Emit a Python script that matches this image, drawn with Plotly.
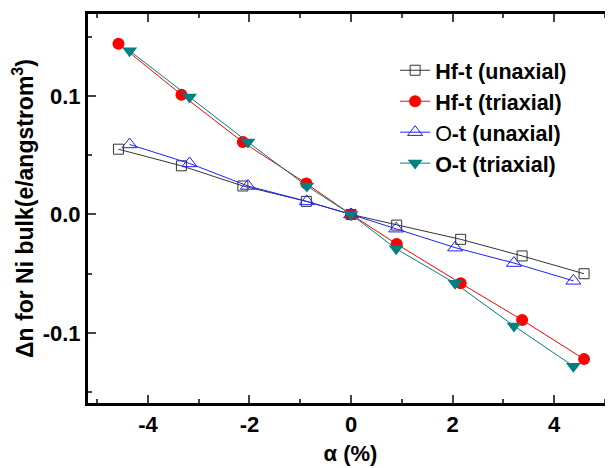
import plotly.graph_objects as go

# Data
x_hf = [-4.58, -3.34, -2.13, -0.88, 0.0, 0.90, 2.16, 3.37, 4.59]
y_hf_uni = [0.055, 0.041, 0.024, 0.011, 0.0, -0.009, -0.021, -0.035, -0.050]
y_hf_tri = [0.144, 0.101, 0.061, 0.026, 0.0, -0.025, -0.058, -0.089, -0.122]

x_o = [-4.36, -3.18, -2.03, -0.87, 0.0, 0.89, 2.05, 3.21, 4.38]
y_o_uni = [0.059, 0.043, 0.024, 0.011, 0.0, -0.012, -0.028, -0.041, -0.056]
y_o_tri = [0.138, 0.099, 0.061, 0.024, 0.0, -0.029, -0.058, -0.094, -0.128]

names = ["<b>Hf-t (unaxial)</b>", "<b>Hf-t (triaxial)</b>", "O<b>-t (unaxial)</b>", "<b>O-t (triaxial)</b>"]

x_tickvals = [-4, -2, 0, 2, 4]
x_ticktext = ["-4", "-2", "0", "2", "4"]
y_tickvals = [-0.1, 0.0, 0.1]
y_ticktext = ["-0.1", "0.0", "0.1"]

x_range = [-5.18, 5.16]
y_range = [-0.159, 0.169]

fig = go.Figure()
fig.add_trace(go.Scatter(x=x_hf, y=y_hf_uni, name=names[0], mode="lines+markers",
                         line=dict(color="#333333", width=1),
                         marker=dict(symbol="square-open", size=10, color="#333333", line=dict(width=1))))
fig.add_trace(go.Scatter(x=x_hf, y=y_hf_tri, name=names[1], mode="lines+markers",
                         line=dict(color="#ff0000", width=1),
                         marker=dict(symbol="circle", size=12, color="#ff0000")))
fig.add_trace(go.Scatter(x=x_o, y=y_o_uni, name=names[2], mode="lines+markers",
                         line=dict(color="#2020ff", width=1),
                         marker=dict(symbol="triangle-up-open", size=13, color="#2020ff", line=dict(width=1))))
fig.add_trace(go.Scatter(x=x_o, y=y_o_tri, name=names[3], mode="lines+markers",
                         line=dict(color="#008080", width=1),
                         marker=dict(symbol="triangle-down", size=13, color="#008080")))
# invisible trace on right axis for mirrored ticks without line
fig.add_trace(go.Scatter(x=[0], y=[0], yaxis="y2", mode="markers", marker=dict(opacity=0),
                         showlegend=False, hoverinfo="skip"))

tickfont = dict(family="Liberation Sans, Arial", size=22, color="black", weight="bold")

fig.update_layout(
    width=605, height=460,
    margin=dict(l=80, r=0, t=6, b=65),
    paper_bgcolor="white", plot_bgcolor="white",
    font=dict(family="Liberation Sans, Arial", color="black"),
    xaxis=dict(range=x_range, tickvals=x_tickvals, ticktext=x_ticktext, ticks="inside", ticklen=8, tickwidth=2,
               showline=True, linewidth=3, linecolor="black", mirror="ticks", automargin=False,
               showgrid=False, zeroline=False, tickfont=tickfont,
               minor=dict(dtick=1, tick0=0, ticks="inside", ticklen=4, tickwidth=2),
               title=dict(text="<b>α (%)</b>", font=dict(size=22), standoff=10)),
    yaxis=dict(range=y_range, tickvals=y_tickvals, ticktext=y_ticktext, ticks="inside", ticklen=8, tickwidth=2,
               showline=True, linewidth=3, linecolor="black", mirror=False, automargin=False,
               showgrid=False, zeroline=False, tickfont=tickfont,
               minor=dict(dtick=0.05, tick0=0, ticks="inside", ticklen=4, tickwidth=2),
               title=dict(text="<b>Δn for Ni bulk(e/angstrom<sup>3</sup>)</b>", font=dict(size=23), standoff=4)),
    yaxis2=dict(range=y_range, tickvals=y_tickvals, overlaying="y", side="right", ticks="inside",
                ticklen=8, tickwidth=2, tickcolor="black", showline=False, showgrid=False, zeroline=False,
                showticklabels=False, automargin=False,
                minor=dict(dtick=0.05, tick0=0, ticks="inside", ticklen=4, tickwidth=2, tickcolor="black")),
    legend=dict(x=0.585, y=0.908, xanchor="left", yanchor="top", bgcolor="rgba(0,0,0,0)",
                font=dict(size=21.5, color="black"), tracegroupgap=0),
)

fig.write_html("out.html")
